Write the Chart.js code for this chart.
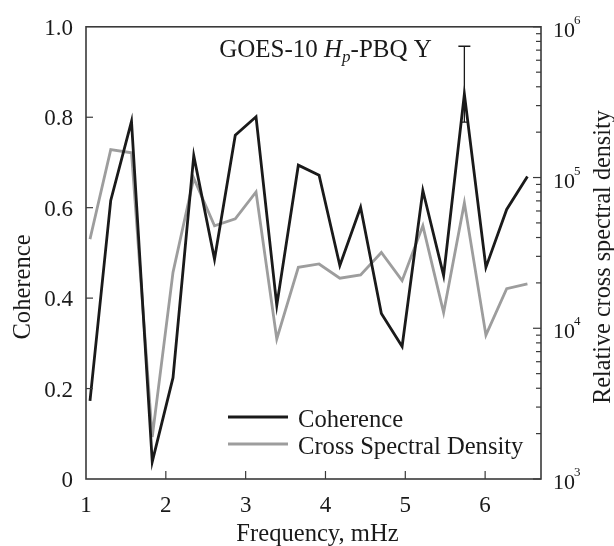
<!DOCTYPE html>
<html><head><meta charset="utf-8">
<script src="https://cdn.jsdelivr.net/npm/chart.js@4"></script>
<style>html,body{margin:0;padding:0;background:#fff}#wrap{width:614px;height:546px}</style>
</head><body><div id="wrap"><canvas id="c" width="614" height="546"></canvas></div>
<script>
// ---- data ----
const frequency = [1.05, 1.31, 1.57, 1.83, 2.09, 2.35, 2.61, 2.87, 3.13, 3.39, 3.66, 3.92, 4.18, 4.44, 4.70, 4.96, 5.22, 5.48, 5.74, 6.01, 6.27, 6.53];
const coherence = [0.173, 0.616, 0.791, 0.038, 0.224, 0.715, 0.486, 0.760, 0.801, 0.384, 0.694, 0.672, 0.472, 0.601, 0.366, 0.293, 0.638, 0.450, 0.851, 0.468, 0.596, 0.669];
const crossSpectralDensity = [39000, 153000, 146000, 1900, 23500, 99000, 47800, 53200, 80200, 8500, 25400, 26700, 21500, 22600, 31800, 20700, 47800, 12700, 67900, 9000, 18300, 19700];
const errorFreq = [5.74];
const errorLow = [0.789];
const errorHigh = [0.957];
const xTicks = [1, 2, 3, 4, 5, 6];
const leftTicks = [0, 0.2, 0.4, 0.6, 0.8, 1.0];
const leftTickLabels = ['0', '0.2', '0.4', '0.6', '0.8', '1.0'];
const rightExponents = [3, 4, 5, 6];
const seriesNames = ['Coherence', 'Cross Spectral Density'];

const SERIF = '"Liberation Serif", "DejaVu Serif", serif';
const INK = '#1a1a1a';
const GREY = '#9d9d9d';

const decor = {
  id: 'decor',
  afterDatasetsDraw(chart) {
    const ctx = chart.ctx;
    const a = chart.chartArea;
    const x = chart.scales.x, y = chart.scales.y, y2 = chart.scales.y2;
    ctx.save();
    // frame
    ctx.strokeStyle = '#3a3a3a';
    ctx.lineWidth = 1.6;
    ctx.strokeRect(a.left, a.top, a.right - a.left, a.bottom - a.top);
    // left ticks (inward)
    ctx.lineWidth = 1.2;
    leftTicks.forEach(v => {
      if (v <= 0 || v >= 1) return;
      const py = y.getPixelForValue(v);
      ctx.beginPath(); ctx.moveTo(a.left, py); ctx.lineTo(a.left + 7, py); ctx.stroke();
    });
    // bottom ticks
    xTicks.forEach(v => {
      if (v <= 1) return;
      const px = x.getPixelForValue(v);
      ctx.beginPath(); ctx.moveTo(px, a.bottom); ctx.lineTo(px, a.bottom - 8); ctx.stroke();
    });
    // right log ticks
    for (let d = 3; d <= 6; d++) {
      for (let m = 1; m <= 9; m++) {
        if (d === 6 && m > 1) break;
        const py = y2.getPixelForValue(m * Math.pow(10, d));
        const len = m === 1 ? 8 : 5;
        ctx.beginPath(); ctx.moveTo(a.right, py); ctx.lineTo(a.right - len, py); ctx.stroke();
      }
    }
    // right tick labels 10^n
    ctx.fillStyle = INK;
    ctx.textAlign = 'left';
    ctx.textBaseline = 'alphabetic';
    rightExponents.forEach(e => {
      const py = y2.getPixelForValue(Math.pow(10, e));
      ctx.font = '22px ' + SERIF;
      ctx.fillText('10', 553, py + 10);
      ctx.font = '13px ' + SERIF;
      ctx.fillText(String(e), 574, py - 3);
    });
    // error bar
    ctx.strokeStyle = INK;
    ctx.lineWidth = 1.3;
    errorFreq.forEach((f, i) => {
      const px = x.getPixelForValue(f);
      const yt = y.getPixelForValue(errorHigh[i]);
      const yb = y.getPixelForValue(errorLow[i]);
      ctx.beginPath();
      ctx.moveTo(px, yt); ctx.lineTo(px, yb);
      ctx.moveTo(px - 6, yt); ctx.lineTo(px + 6, yt);
      ctx.moveTo(px - 4, yb); ctx.lineTo(px + 4, yb);
      ctx.stroke();
    });
    // title
    const parts = [
      {t: 'GOES-10 ', f: '25px ' + SERIF, dy: 0},
      {t: 'H', f: 'italic 25px ' + SERIF, dy: 0},
      {t: 'p', f: 'italic 17px ' + SERIF, dy: 5},
      {t: '-PBQ Y', f: '25px ' + SERIF, dy: 0}
    ];
    let total = 0;
    parts.forEach(p => { ctx.font = p.f; p.w = ctx.measureText(p.t).width; total += p.w; });
    let tx = 325.5 - total / 2;
    parts.forEach(p => { ctx.font = p.f; ctx.fillText(p.t, tx, 57 + p.dy); tx += p.w; });
    // legend
    const legY = [417, 444];
    const legC = [INK, GREY];
    ctx.lineWidth = 2.8;
    seriesNames.forEach((n, i) => {
      ctx.strokeStyle = legC[i];
      ctx.beginPath(); ctx.moveTo(228, legY[i]); ctx.lineTo(288, legY[i]); ctx.stroke();
      ctx.font = '24.6px ' + SERIF;
      ctx.fillStyle = INK;
      ctx.fillText(n, 298, legY[i] + 10);
    });
    // axis titles
    ctx.font = '24.6px ' + SERIF;
    ctx.textAlign = 'center';
    ctx.fillText('Frequency, mHz', 317.5, 541);
    ctx.save();
    ctx.translate(30, 287); ctx.rotate(-Math.PI / 2);
    ctx.fillText('Coherence', 0, 0);
    ctx.restore();
    ctx.save();
    ctx.translate(610, 257); ctx.rotate(-Math.PI / 2);
    ctx.font = '24.2px ' + SERIF;
    ctx.fillText('Relative cross spectral density', 0, 0);
    ctx.restore();
    ctx.restore();
  }
};

new Chart(document.getElementById('c'), {
  type: 'line',
  data: {
    datasets: [
      {label: seriesNames[0], data: frequency.map((f, i) => ({x: f, y: coherence[i]})), yAxisID: 'y',
       borderColor: INK, borderWidth: 2.8, pointRadius: 0, tension: 0, fill: false},
      {label: seriesNames[1], data: frequency.map((f, i) => ({x: f, y: crossSpectralDensity[i]})), yAxisID: 'y2',
       borderColor: GREY, borderWidth: 2.8, pointRadius: 0, tension: 0, fill: false}
    ]
  },
  options: {
    responsive: false, animation: false, devicePixelRatio: 1,
    layout: {padding: {top: 22, left: 0, right: 0, bottom: 0}},
    plugins: {legend: {display: false}, tooltip: {enabled: false}, title: {display: false}},
    scales: {
      x: {type: 'linear', min: 1, max: 6.7,
        afterBuildTicks: s => { s.ticks = xTicks.map(v => ({value: v})); },
        afterFit: s => { s.height = 67; },
        grid: {display: false, drawTicks: false}, border: {display: false},
        ticks: {font: {family: SERIF, size: 23}, color: INK, padding: 13, maxRotation: 0, autoSkip: false,
          callback: v => String(v)}},
      y: {type: 'linear', position: 'left', min: 0, max: 1,
        afterBuildTicks: s => { s.ticks = leftTicks.map(v => ({value: v})); },
        afterFit: s => { s.width = 86; },
        grid: {display: false, drawTicks: false}, border: {display: false},
        ticks: {font: {family: SERIF, size: 23}, color: INK, padding: 13, labelOffset: 2, autoSkip: false,
          callback: (v, i) => leftTickLabels[i]}},
      y2: {type: 'logarithmic', position: 'right', min: 1000, max: 1000000,
        afterFit: s => { s.width = 73; },
        grid: {display: false, drawTicks: false}, border: {display: false},
        ticks: {display: false}}
    }
  },
  plugins: [decor]
});
</script></body></html>
